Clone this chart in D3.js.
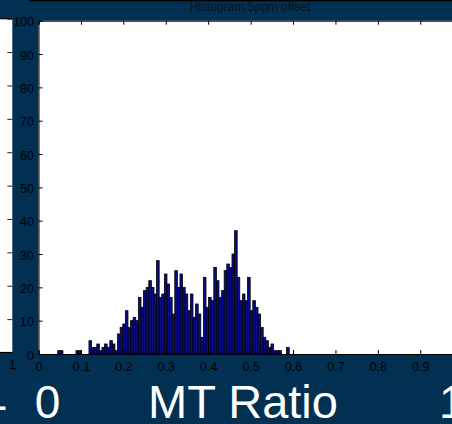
<!DOCTYPE html>
<html>
<head>
<meta charset="utf-8">
<script src="https://cdn.jsdelivr.net/npm/d3@7"></script>
<style>
  html, body { margin: 0; padding: 0; background: #023052; }
  svg { display: block; }
  text { font-family: "Liberation Sans", Arial, sans-serif; }
</style>
</head>
<body>
<svg id="chart" width="452" height="424"></svg>
<script>
// Histogram of MT ratio values, 5 ppm offset
const title = "Histogram 5ppm offset";
const xLabel = "MT Ratio";
const binStart = 0.0454;   // left edge of the first bin
const binWidth = 0.00613;  // width of each bin
const counts = [
  1, 1, 0, 0, 0, 0, 0, 1, 1, 0, 0, 0,
  4, 2, 2, 3, 1, 2, 3, 2, 4, 3, 1, 6, 8, 9, 13, 8, 10, 11, 10, 17, 14,
  19, 20, 22, 20, 18, 28, 17, 18, 24, 21, 17, 12, 25, 20, 24, 20, 18, 13,
  18, 11, 15, 12, 5, 23, 14, 17, 16, 26, 22, 17, 19, 25, 27, 26, 30, 37,
  23, 16, 18, 16, 23, 13, 16, 14, 12, 8, 5, 4, 2, 3, 1, 1, 1, 0, 0, 2
];
const xDomain = [0, 1];
const yDomain = [0, 100];
const sideLabels = ["0", "1"];

const svg = d3.select("#chart");
const W = 452, H = 424;

const x = d3.scaleLinear().domain(xDomain).range([38.5, 462.7]);
const y = d3.scaleLinear().domain(yDomain).range([354, 20.7]);

// secondary (background) axes strip on the far left
const yBack = d3.scaleLinear().domain([0, 1]).range([352.5, 18.7]);
svg.append("rect").attr("x", 0).attr("y", yBack(1)).attr("width", 12.3)
  .attr("height", yBack(0) - yBack(1)).attr("fill", "#fff");
svg.append("g").attr("transform", "translate(12.3,0)")
  .call(d3.axisLeft(yBack).ticks(10).tickSize(5).tickFormat(""))
  .call(g => g.select(".domain").remove())
  .call(g => g.selectAll("line").attr("stroke", "#222").attr("stroke-width", 1));
[yBack(1), yBack(0)].forEach(v => {
  svg.append("line").attr("x1", 0).attr("x2", 12.3).attr("y1", v).attr("y2", v)
    .attr("stroke", "#000").attr("stroke-width", 1.2);
});
svg.append("text").attr("x", 12.5).attr("y", 368.5).attr("text-anchor", "middle")
  .attr("font-size", 12.5).attr("fill", "#000").text("1");

// top rule
svg.append("line").attr("x1", 29).attr("x2", W).attr("y1", 0.6).attr("y2", 0.6)
  .attr("stroke", "#000").attr("stroke-width", 1.2);

// title
svg.append("text").attr("x", 250).attr("y", 11).attr("text-anchor", "middle")
  .attr("font-size", 12).attr("fill", "#061420").text(title);

// plot area
svg.append("rect").attr("x", x(0)).attr("y", y(100))
  .attr("width", W - x(0)).attr("height", y(0) - y(100)).attr("fill", "#fff");

// bars
const bins = counts.map((c, i) => ({ x0: binStart + i * binWidth, x1: binStart + (i + 1) * binWidth, c }));
svg.append("g").selectAll("rect").data(bins.filter(b => b.c > 0)).join("rect")
  .attr("x", d => x(d.x0))
  .attr("width", d => x(d.x1) - x(d.x0))
  .attr("y", d => y(d.c))
  .attr("height", d => y(0) - y(d.c))
  .attr("fill", "#0a0a8c")
  .attr("stroke", "#000")
  .attr("stroke-width", 0.8);

// axes
const fmt = d3.format("~g");
const xTicks = x.ticks(10).filter(t => t < 1);
svg.append("g").attr("transform", `translate(${x(0)},0)`)
  .call(d3.axisLeft(y).ticks(10).tickSize(-4).tickPadding(4.5).tickFormat(fmt))
  .call(g => g.select(".domain").attr("stroke", "#000"))
  .call(g => g.selectAll("text").attr("font-size", 12.5).attr("fill", "#000")
    .attr("font-family", "Liberation Sans, Arial, sans-serif").attr("dy", "0.4em"));

svg.append("g").attr("transform", `translate(0,${y(0)})`)
  .call(d3.axisBottom(x).tickValues(xTicks).tickSize(-4).tickPadding(8).tickFormat(fmt))
  .call(g => g.select(".domain").attr("stroke", "#000"))
  .call(g => g.selectAll("text").attr("font-size", 12.5).attr("fill", "#000")
    .attr("font-family", "Liberation Sans, Arial, sans-serif"));

svg.append("g").attr("transform", `translate(0,${y(100)})`)
  .call(d3.axisTop(x).tickValues(xTicks).tickSize(-4).tickFormat(""))
  .call(g => g.select(".domain").attr("stroke", "#000"));

// large axis caption
const big = svg.append("g").attr("fill", "#fff").attr("font-size", 46)
  .attr("font-family", "Roboto, sans-serif");
big.append("text").attr("x", -18).attr("y", 410).text(sideLabels[1]);
const bigMain = svg.append("g").attr("fill", "#fff").attr("font-size", 46);
bigMain.append("text").attr("x", 47.5).attr("y", 418).attr("text-anchor", "middle").text(sideLabels[0]);
bigMain.append("text").attr("x", 243).attr("y", 418).attr("text-anchor", "middle")
  .attr("textLength", 190).attr("lengthAdjust", "spacingAndGlyphs").text(xLabel);
bigMain.append("text").attr("x", 439).attr("y", 418).text(sideLabels[1]);
</script>
</body>
</html>
